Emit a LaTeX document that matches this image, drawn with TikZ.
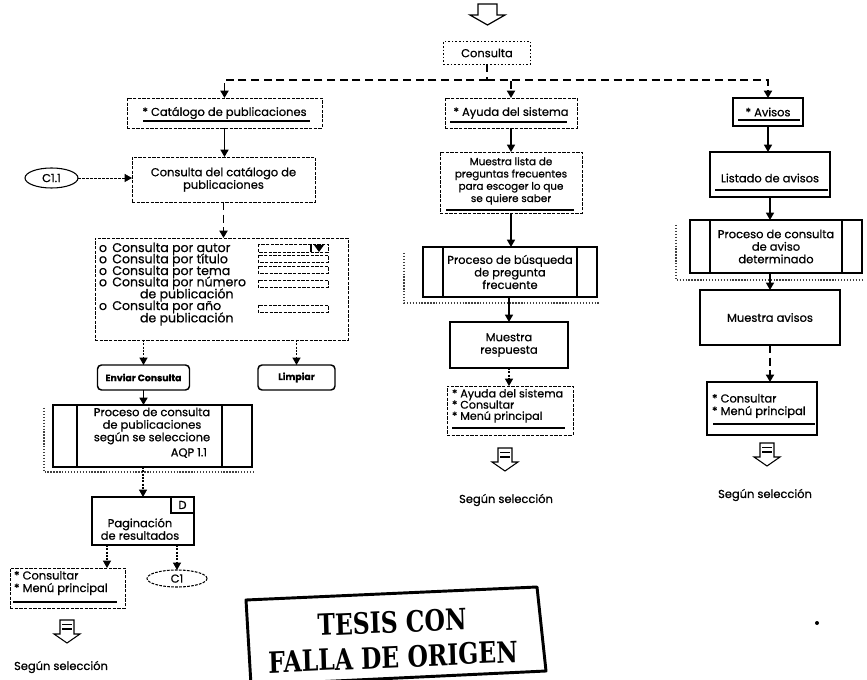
\documentclass[tikz,border=0pt]{standalone}
\usepackage{fontspec}
\setmainfont{Poppins}[FakeBold=0.7]
\newfontfamily\stampfont{DejaVu Serif}
\usetikzlibrary{arrows.meta,calc,shapes.geometric}

\begin{document}
\begin{tikzpicture}[x=0.75pt,y=-0.75pt,
  font=\fontsize{8.6}{9.4}\selectfont,
  every node/.style={inner sep=0pt, outer sep=0pt},
  sz/.style 2 args={minimum width=#1*0.75pt, minimum height=#2*0.75pt},
  thinbox/.style={draw, line width=0.6pt, dash pattern=on 2.5pt off 1pt, align=center},
  boldbox/.style={draw, solid, line width=1.1pt, align=center},
  btn/.style={boldbox, rounded corners=3pt, font=\fontsize{7}{8}\selectfont\bfseries},
  oval/.style={ellipse, draw, line width=0.8pt},
  uline/.style={line width=1.4pt},
  arr/.style={line width=1.1pt, -{Triangle[length=5.5pt,width=6pt]}},
  darr/.style={arr, line width=1.3pt, dash pattern=on 6pt off 3.5pt},
  dline/.style={line width=1.3pt, dash pattern=on 6pt off 3.5pt},
  parr/.style={arr, line width=0.8pt, dash pattern=on 1.5pt off 1pt},
  shade/.style={line width=1.4pt, dash pattern=on 1pt off 1.2pt, black!75},
  field/.style={draw, line width=0.6pt, dash pattern=on 2.5pt off 1pt},
  formtext/.style={anchor=west, font=\fontsize{9.4}{10}\selectfont},
  stamptext/.style={xscale=0.8, rotate=2, inner sep=0pt,
    font=\stampfont\bfseries\fontsize{22}{22}\selectfont},
  pics/selicon/.style={code={
    \draw[line width=0.8pt, line join=miter] (-7,0) -- (7,0) -- (7,14) -- (13,14)
      -- (0,23) -- (-13,14) -- (-7,14) -- cycle;
    \draw[line width=1.8pt] (-5,9) -- (5,9);
    \draw[line width=0.6pt] (-5,4) -- (5,4);
  }},
]
\useasboundingbox (0,0) rectangle (867,680);

% entry arrow
\draw[line width=0.9pt, line join=miter] (478,4) -- (497,4) -- (497,15) -- (505,15)
  -- (487.5,25) -- (470,15) -- (478,15) -- cycle;

% ---------- top menu ----------
\node[thinbox, sz={87}{23}, dash pattern=on 1.2pt off 1.5pt] (consulta) at (487,53) {Consulta};
\coordinate (J) at (487,80);

% ---------- left column: catalogue ----------
\node[thinbox, sz={195}{30}] (cat) at (224.5,113) {* Catálogo de publicaciones};
\draw[uline] ($(cat.south west)+(16,-7)$) -- ($(cat.south east)+(-12,-7)$);

\node[thinbox, sz={183}{45}] (cons) at (223.5,179.5) {Consulta del catálogo de\\publicaciones};
\node[oval, sz={53}{20}] (c11) at (51.5,178) {C1.1};

\node[thinbox, sz={253}{102}] (form) at (221.5,289) {};
\node[formtext] (o1) at (99,249) {o\hspace{4pt}Consulta por autor};
\node[formtext] (o2) at (99,260) {o\hspace{4pt}Consulta por título};
\node[formtext] (o3) at (99,272) {o\hspace{4pt}Consulta por tema};
\node[formtext] (o4) at (99,283) {o\hspace{4pt}Consulta por número};
\node[formtext] (o4b) at (140,295) {de publicación};
\node[formtext] (o5) at (99,307) {o\hspace{4pt}Consulta por año};
\node[formtext] (o5b) at (140,319) {de publicación};

\draw[field] (258,244) rectangle (328,252);
\draw[line width=0.8pt] (311,244) -- (311,252);
\fill (314,245) -- (324,245) -- (319,252) -- cycle;
\draw[field] (258,255) rectangle (328,262);
\draw[field] (258,266) rectangle (328,273);
\draw[field] (258,280) rectangle (328,287);
\draw[field] (258,305) rectangle (328,312);

\node[btn, sz={92}{25}] (enviar) at (143.5,377.5) {Enviar Consulta};
\node[btn, sz={77}{25}] (limpiar) at (296.5,377.5) {Limpiar};

\node[boldbox, sz={199}{62}] (proc1) at (152.5,436) {};
\draw[line width=1.1pt] ($(proc1.north west)+(24,0)$) -- ($(proc1.south west)+(24,0)$);
\draw[line width=1.1pt] ($(proc1.north east)+(-30,0)$) -- ($(proc1.south east)+(-30,0)$);
\node[align=center] (proc1t) at (152,426) {Proceso de consulta\\de publicaciones\\según se seleccione};
\node[anchor=east] (aqp) at (207,453) {AQP 1.1};
\draw[shade] ($(proc1.north west)+(-9,3)$) -- ($(proc1.south west)+(-9,5)$) -- ($(proc1.south east)+(3,5)$);

\node[boldbox, sz={102}{48}] (pag) at (143,521) {};
\draw[line width=1.1pt] ($(pag.north east)+(-23,0)$) |- ($(pag.north east)+(0,16)$);
\node (dtag) at ($(pag.north east)+(-11.5,8)$) {D};
\node[align=center] (pagt) at (140,529) {Paginación\\de resultados};

\node[thinbox, sz={115}{40}] (menu1) at (67.5,588) {};
\node[anchor=north west, align=left] (menu1t) at (14,571) {* Consultar\\* Menú principal};
\draw[uline] ($(menu1.south west)+(3,-6)$) -- ($(menu1.south east)+(-8,-6)$);
\node[oval, sz={60}{17}, dash pattern=on 2pt off 1pt] (c1) at (177,578.5) {C1};

\pic (icon1) at (67,620) {selicon};
\node (sel1) at (61,667) {Según selección};

% ---------- middle column: help ----------
\node[thinbox, sz={132}{30}] (ayuda) at (511,113) {* Ayuda del sistema};
\draw[uline] ($(ayuda.south west)+(5,-6)$) -- ($(ayuda.south east)+(-10,-6)$);

\node[thinbox, sz={142}{61}] (lista) at (511,182.5) {};
\node[align=center, font=\fontsize{7.8}{9.2}\selectfont] (listat) at (511,181) {Muestra lista de\\preguntas frecuentes\\para escoger lo que\\se quiere saber};
\draw[uline] ($(lista.south west)+(6,-3)$) -- ($(lista.south east)+(-8,-3)$);

\node[boldbox, sz={174}{50}] (proc2) at (510,272) {Proceso de búsqueda\\de pregunta\\frecuente};
\draw[line width=1.1pt] ($(proc2.north west)+(20,0)$) -- ($(proc2.south west)+(20,0)$);
\draw[line width=1.1pt] ($(proc2.north east)+(-20,0)$) -- ($(proc2.south east)+(-20,0)$);
\draw[shade] ($(proc2.north west)+(-19,6)$) -- ($(proc2.south west)+(-19,6)$) -- ($(proc2.south east)+(3,6)$);

\node[boldbox, sz={118}{46}] (resp) at (509,345) {Muestra\\respuesta};

\node[thinbox, sz={126}{49}] (menu2) at (510,410.5) {};
\node[anchor=north west, align=left, font=\fontsize{8.3}{8.4}\selectfont] (menu2t) at (452,389) {* Ayuda del sistema\\* Consultar\\* Menú principal};
\draw[uline] ($(menu2.south west)+(5,-7)$) -- ($(menu2.south east)+(-8,-7)$);

\pic (icon2) at (505,448) {selicon};
\node (sel2) at (506,500) {Según selección};

% ---------- right column: notices ----------
\node[boldbox, sz={70}{28}] (avisos) at (768,112) {* Avisos};
\draw[uline] ($(avisos.south west)+(5,-6)$) -- ($(avisos.south east)+(-3,-6)$);

\node[boldbox, sz={120}{45}] (listado) at (770,174.5) {};
\node (listadot) at (770,178) {Listado de avisos};
\draw[uline] ($(listado.south west)+(5,-7)$) -- ($(listado.south east)+(-2,-7)$);

\node[boldbox, sz={172}{53}] (proc3) at (776,246.5) {Proceso de consulta\\de aviso\\determinado};
\draw[line width=1.1pt] ($(proc3.north west)+(20,0)$) -- ($(proc3.south west)+(20,0)$);
\draw[line width=1.1pt] ($(proc3.north east)+(-20,0)$) -- ($(proc3.south east)+(-20,0)$);
\draw[shade] ($(proc3.north west)+(-14,5)$) -- ($(proc3.south west)+(-14,7)$) -- ($(proc3.south east)+(2,7)$);

\node[boldbox, sz={140}{55}] (muestra) at (770,317.5) {Muestra avisos};

\node[draw, line width=0.8pt, sz={110}{53}] (menu3) at (762,408.5) {};
\node[anchor=north west, align=left] (menu3t) at (712,394) {* Consultar\\* Menú principal};
\draw[uline] ($(menu3.south west)+(6,-11)$) -- ($(menu3.south east)+(-2,-11)$);

\pic (icon3) at (767,443) {selicon};
\node (sel3) at (765,495) {Según selección};

% ---------- connectors ----------
\draw[dline] (consulta.south) -- (J);
\draw[darr] (J) -| (cat.north);
\draw[darr] (J) -| (ayuda.north);
\draw[darr] (J) -| (avisos.north);

\draw[arr] (cat.south) -- (cat.south |- cons.north);
\draw[arr, line width=0.6pt, dash pattern=on 2pt off 1pt] (c11.east) -- (c11.east -| cons.west);
\draw[darr] (cons.south) -- (cons.south |- form.north);
\draw[parr] (form.south -| enviar.north) -- (enviar.north);
\draw[parr] (form.south -| limpiar.north) -- (limpiar.north);
\draw[arr] (enviar.south) -- (enviar.south |- proc1.north);
\draw[parr] (proc1.south -| pag.north) -- (pag.north);
\coordinate (pm) at ($(pag.south)+(-36,0)$);
\draw[parr] (pm) -- (pm |- menu1.north);
\draw[parr] (pag.south -| c1.north) -- (c1.north);

\draw[arr] (ayuda.south) -- (lista.north);
\draw[arr] (lista.south) -- (lista.south |- proc2.north);
\draw[arr] (proc2.south -| resp.north) -- (resp.north);
\draw[parr] (resp.south) -- (resp.south |- menu2.north);

\draw[arr] (avisos.south) -- (avisos.south |- listado.north);
\draw[arr] (listado.south) -- (listado.south |- proc3.north);
\draw[arr] (proc3.south -| muestra.north) -- (muestra.north);
\draw[darr] (muestra.south) -- (muestra.south |- menu3.north);

% ---------- stamp ----------
\draw[line width=2.2pt, line join=round] (246,600) -- (537,587) -- (546,671) -- (251,685) -- cycle;
\node[stamptext] (tesis) at (392,622) {TESIS CON};
\node[stamptext] (falla) at (393,657) {FALLA DE ORIGEN};

\fill (817,623) circle (2);
\end{tikzpicture}
\end{document}
